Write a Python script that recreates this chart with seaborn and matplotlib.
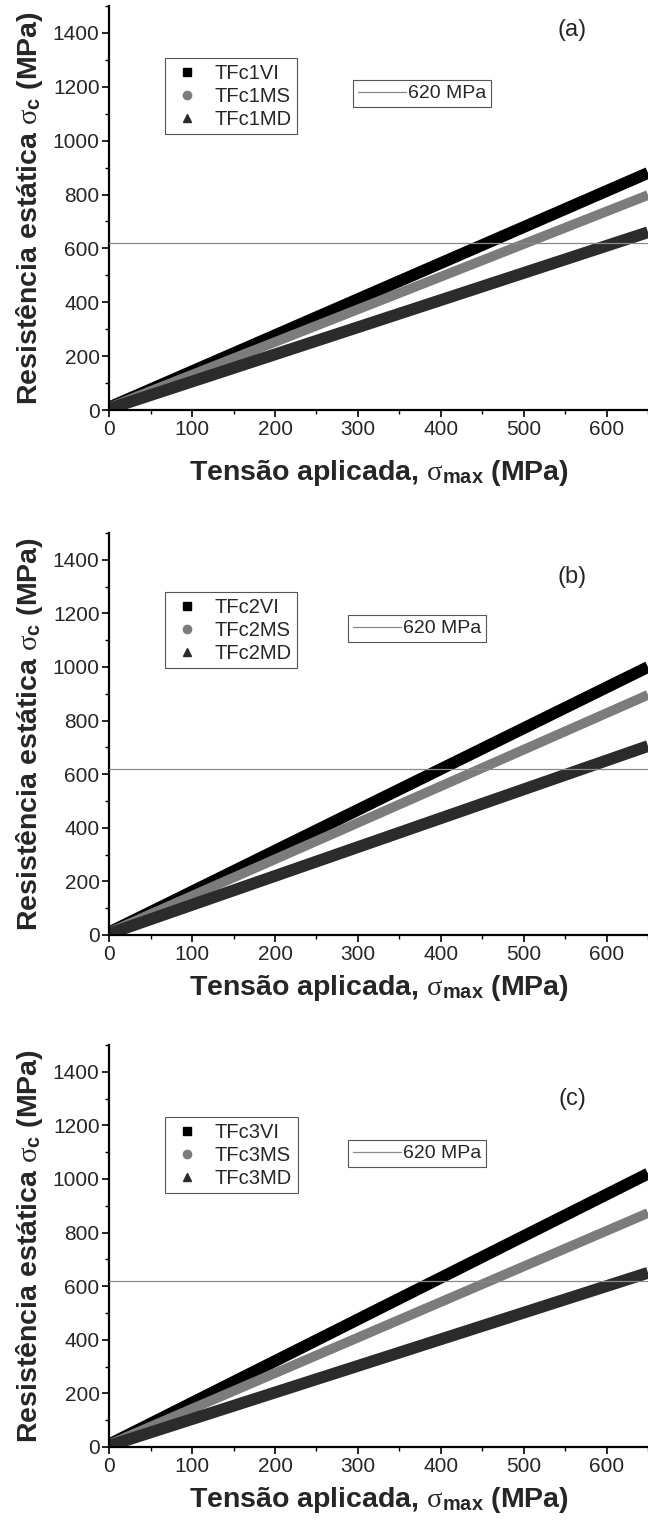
import numpy as np
import pandas as pd
import matplotlib
matplotlib.use("Agg")
import matplotlib.pyplot as plt
from matplotlib.lines import Line2D
from matplotlib.ticker import MultipleLocator
import seaborn as sns

sns.set_style("white")
plt.rcParams['font.family'] = ['Liberation Sans', 'DejaVu Sans']
plt.rcParams['mathtext.fontset'] = 'custom'
plt.rcParams['mathtext.rm'] = 'Liberation Serif'
plt.rcParams['mathtext.it'] = 'Liberation Serif:italic'
plt.rcParams['mathtext.bf'] = 'Liberation Sans:bold'

# ---- data ----
x_stress = [0, 650]
panel_tags = ["(a)", "(b)", "(c)"]
series_names_a = ["TFc1VI", "TFc1MS", "TFc1MD"]
series_names_b = ["TFc2VI", "TFc2MS", "TFc2MD"]
series_names_c = ["TFc3VI", "TFc3MS", "TFc3MD"]
a_VI = [10, 880]
a_MS = [10, 798]
a_MD = [5, 660]
b_VI = [10, 1000]
b_MS = [10, 896]
b_MD = [5, 705]
c_VI = [10, 1020]
c_MS = [10, 873]
c_MD = [5, 650]
ref_level = 620
ref_label = "620 MPa"
x_ticks = [0, 100, 200, 300, 400, 500, 600]
y_ticks = [0, 200, 400, 600, 800, 1000, 1200, 1400]

colors = ["#000000", "#7c7c7c", "#2b2b2b"]
widths = [8.5, 7.0, 8.5]
markers = ["s", "o", "^"]

W, H = 648, 1522
fig = plt.figure(figsize=(W / 100, H / 100), dpi=100)

# axes boxes in pixels: (y_of_zero, y_of_top)
boxes = [(410, 6), (935, 533), (1447, 1045)]
x0_px = 109.3
tag_y = [0.94, 0.89, 0.865]
leg1_y = [0.871, 0.853, 0.821]
leg2_y = [0.817, 0.796, 0.764]
leg2_x = [0.452, 0.443, 0.443]
xlabel_pad = [14, 7, 7]

panels = [
    (series_names_a, [a_VI, a_MS, a_MD]),
    (series_names_b, [b_VI, b_MS, b_MD]),
    (series_names_c, [c_VI, c_MS, c_MD]),
]

for i, ((names, ys), (yb, yt)) in enumerate(zip(panels, boxes)):
    ax = fig.add_axes([x0_px / W, 1 - yb / H, (W - x0_px) / W, (yb - yt) / H])
    for name, yv, col, lw in zip(names, ys, colors, widths):
        df = pd.DataFrame({"x": x_stress, "y": yv})
        sns.lineplot(data=df, x="x", y="y", ax=ax, color=col, linewidth=lw,
                     solid_capstyle="butt", legend=False, sort=False)
    ax.axhline(ref_level, color="#8a8a8a", linewidth=0.9, zorder=5)

    ax.set_xlim(0, 650)
    ax.set_ylim(0, 1500)
    ax.set_xticks(x_ticks)
    ax.set_yticks(y_ticks)
    ax.xaxis.set_minor_locator(MultipleLocator(50))
    ax.yaxis.set_minor_locator(MultipleLocator(100))
    for s in ["top", "right"]:
        ax.spines[s].set_visible(False)
    for s in ["left", "bottom"]:
        ax.spines[s].set_linewidth(1.6)
        ax.spines[s].set_color("black")
    ax.tick_params(axis="both", which="major", direction="out", length=5,
                   width=1.2, labelsize=15, color="black", pad=2,
                   bottom=True, left=True)
    ax.tick_params(axis="both", which="minor", direction="out", length=3,
                   width=1.0, color="black", bottom=True, left=True)
    ax.set_xlabel(r"Tensão aplicada, $\mathrm{\sigma}_{\mathbf{max}}$ (MPa)",
                  fontsize=20.5, fontweight="bold", labelpad=xlabel_pad[i])
    ax.set_ylabel(r"Resistência estática $\mathrm{\sigma}_{\mathbf{c}}$ (MPa)",
                  fontsize=20.5, fontweight="bold")
    ax.yaxis.set_label_coords((45 - x0_px) / (W - x0_px), 0.5)

    ax.text(0.859, tag_y[i], panel_tags[i], transform=ax.transAxes,
            fontsize=17, ha="center", va="center")

    handles = [Line2D([], [], linestyle="none", marker=m, color=c,
                      markersize=6, label=n)
               for m, c, n in zip(markers, colors, names)]
    leg1 = ax.legend(handles=handles, loc="upper left",
                     bbox_to_anchor=(0.103, leg1_y[i]), borderaxespad=0,
                     frameon=True, fancybox=False, fontsize=14.5,
                     handlelength=1.6, handletextpad=0.6, labelspacing=0.2,
                     borderpad=0.28, edgecolor="#555555", framealpha=1)
    leg1.get_frame().set_linewidth(0.8)
    ax.add_artist(leg1)
    h2 = [Line2D([], [], color="#8a8a8a", linewidth=0.9, label=ref_label)]
    leg2 = ax.legend(handles=h2, loc="upper left",
                     bbox_to_anchor=(leg2_x[i], leg2_y[i]),
                     borderaxespad=0, frameon=True, fancybox=False,
                     fontsize=14, handlelength=2.5, handletextpad=0.1,
                     borderpad=0.25, edgecolor="#555555", framealpha=1)
    leg2.get_frame().set_linewidth(0.8)

fig.savefig("out.png", dpi=100)
